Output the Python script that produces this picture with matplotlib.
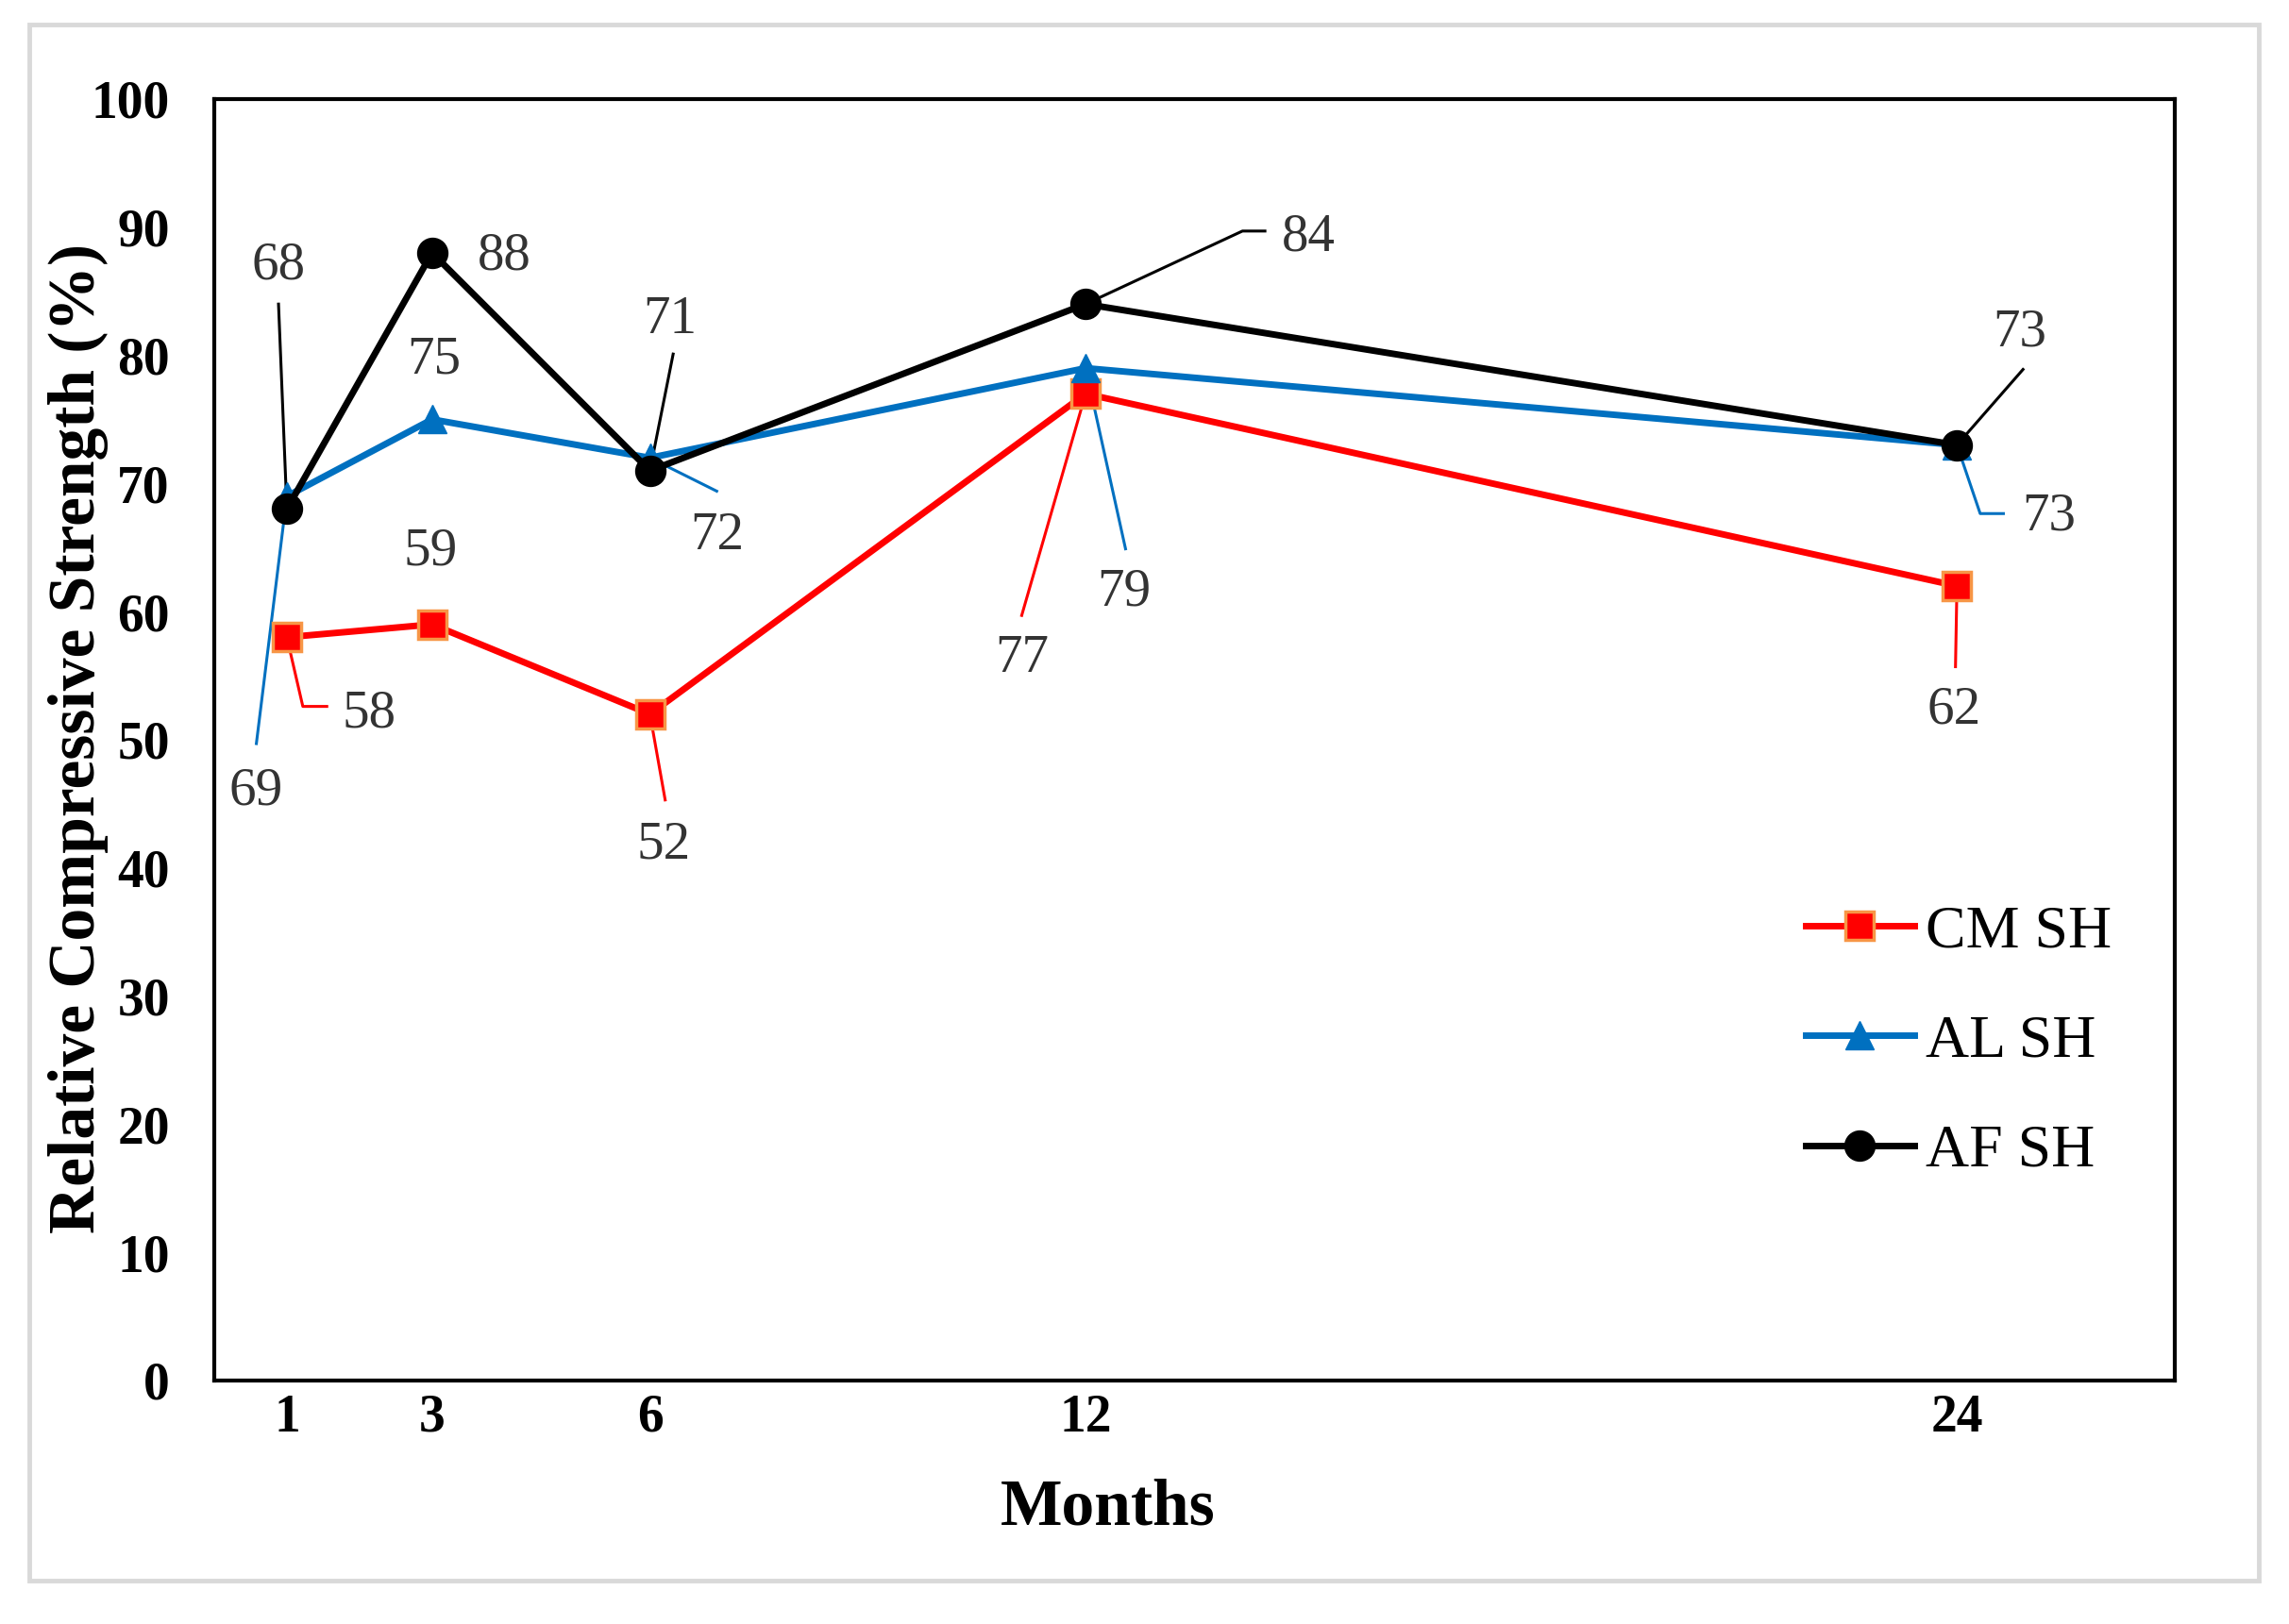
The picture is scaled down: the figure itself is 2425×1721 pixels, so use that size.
#!/usr/bin/env python3
"""Relative compressive strength over time for the three SH mixes."""

import matplotlib
matplotlib.use("Agg")
import matplotlib.pyplot as plt
from matplotlib.patches import Rectangle

# Data
months = [1, 3, 6, 12, 24]
cm_sh = [58, 59, 52, 77, 62]
al_sh = [69, 75, 72, 79, 73]
af_sh = [68, 88, 71, 84, 73]

# Data-label placement: (text x, text y, leader path after the point)
cm_labels = [(2.13, 52.0, [(1.22, 52.6), (1.55, 52.6)]),
             (2.98, 64.7, []),
             (6.19, 41.8, [(6.21, 45.3)]),
             (11.12, 56.3, [(11.12, 59.7)]),
             (23.96, 52.3, [(23.98, 55.7)])]
al_labels = [(0.58, 46.0, [(0.58, 49.7)]),
             (3.03, 79.6, []),
             (6.92, 65.9, [(6.92, 69.4)]),
             (12.53, 61.5, [(12.55, 64.9)]),
             (25.27, 67.4, [(24.32, 67.65), (24.64, 67.65)])]
af_labels = [(0.885, 87.0, [(0.885, 84.0)]),
             (4.0, 87.7, []),
             (6.28, 82.8, [(6.32, 80.1)]),
             (15.07, 89.2, [(14.16, 89.7), (14.47, 89.7)]),
             (24.87, 81.8, [(24.91, 78.9)])]

SERIF = "Liberation Serif"
plt.rcParams["font.family"] = SERIF


def add_labels(ax, values, labels, color):
    """Write the value labels with their thin leader lines."""
    for x, y, (tx, ty, path) in zip(months, values, labels):
        if path:
            xs = [x] + [p[0] for p in path]
            ys = [y] + [p[1] for p in path]
            ax.plot(xs, ys, color=color, lw=2.2, zorder=2)
        ax.text(tx, ty, str(y), ha='center', va='center', fontsize=41,
                color='#333333', zorder=5)


def main():
    fig = plt.figure(figsize=(24.25, 17.21), dpi=100)
    ax = fig.add_axes([0.0936, 0.150, 0.8565, 0.789])

    # light grey frame around the whole picture
    fig.patches.append(Rectangle((31 / 2425, 1 - 1675 / 1721),
                                 (2393 - 31) / 2425, (1675 - 26) / 1721,
                                 transform=fig.transFigure, fill=False,
                                 edgecolor='#d9d9d9', lw=3.5))

    ax.plot(months, cm_sh, color='#ff0000', lw=5, marker='s',
            markersize=22, markerfacecolor='#ff0000',
            markeredgecolor='#f79646', markeredgewidth=2.5,
            label='CM SH', zorder=3)
    ax.plot(months, al_sh, color='#0070c0', lw=5, marker='^',
            markersize=22, label='AL SH', zorder=3)
    ax.plot(months, af_sh, color='black', lw=5, marker='o',
            markersize=23, label='AF SH', zorder=4)

    add_labels(ax, cm_sh, cm_labels, '#ff0000')
    add_labels(ax, al_sh, al_labels, '#0070c0')
    add_labels(ax, af_sh, af_labels, 'black')

    ax.set_xlim(0, 27)
    ax.set_ylim(0, 100)
    ax.set_xticks(months)
    ax.set_xticklabels([str(m) for m in months])
    ax.set_yticks(range(0, 101, 10))
    ax.tick_params(axis='both', length=0, labelsize=40)
    ax.tick_params(axis='x', pad=10)
    ax.tick_params(axis='y', pad=34)
    for lbl in ax.get_xticklabels() + ax.get_yticklabels():
        lbl.set_fontweight('bold')

    for spine in ax.spines.values():
        spine.set_linewidth(3)
        spine.set_color('black')

    ax.set_xlabel('Months', fontsize=50, fontweight='bold')
    ax.set_ylabel('Relative Compressive Strength (%)', fontsize=50,
                  fontweight='bold')
    ax.xaxis.set_label_coords(0.456, -0.076)
    ax.yaxis.set_label_coords(-0.054, 0.501)

    ax.legend(loc='center left', bbox_to_anchor=(0.8116, 0.264),
              frameon=False, fontsize=46, borderpad=0, borderaxespad=0,
              handlelength=1.8, handletextpad=0.2, labelspacing=0.9)

    fig.savefig('out.png', dpi=100)
    plt.close(fig)


if __name__ == "__main__":
    main()
